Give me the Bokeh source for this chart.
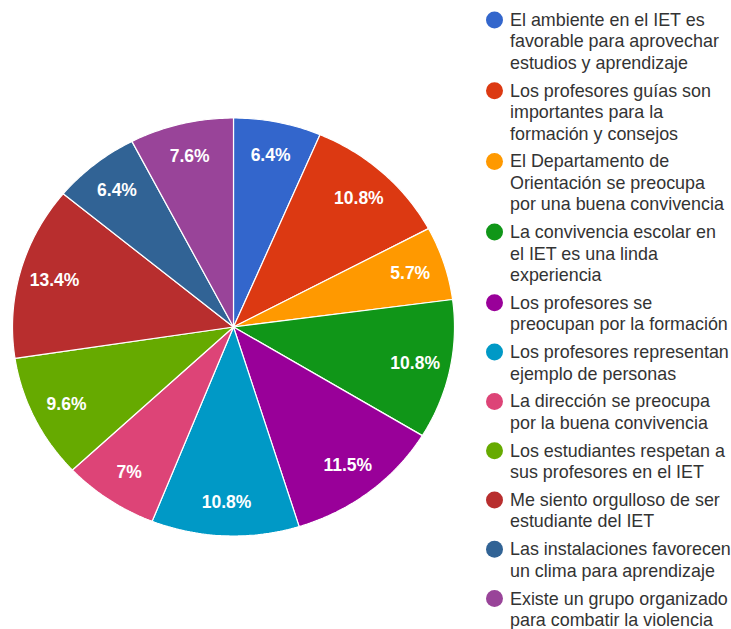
import numpy as np
from bokeh.plotting import figure
from bokeh.models import Range1d
from bokeh.core.properties import value
from bokeh.embed import file_html
from bokeh.resources import INLINE

categories = [
    "El ambiente en el IET es\nfavorable para aprovechar\nestudios y aprendizaje",
    "Los profesores guías son\nimportantes para la\nformación y consejos",
    "El Departamento de\nOrientación se preocupa\npor una buena convivencia",
    "La convivencia escolar en\nel IET es una linda\nexperiencia",
    "Los profesores se\npreocupan por la formación",
    "Los profesores representan\nejemplo de personas",
    "La dirección se preocupa\npor la buena convivencia",
    "Los estudiantes respetan a\nsus profesores en el IET",
    "Me siento orgulloso de ser\nestudiante del IET",
    "Las instalaciones favorecen\nun clima para aprendizaje",
    "Existe un grupo organizado\npara combatir la violencia",
]
percentages = [6.4, 10.8, 5.7, 10.8, 11.5, 10.8, 7.0, 9.6, 13.4, 6.4, 7.6]
pct_labels = ["6.4%", "10.8%", "5.7%", "10.8%", "11.5%", "10.8%", "7%", "9.6%", "13.4%", "6.4%", "7.6%"]
colors = ["#3366cc", "#dc3912", "#ff9900", "#109618", "#990099", "#0099c6",
          "#dd4477", "#66aa00", "#b82e2e", "#316395", "#994499"]

W, H = 731, 629
p = figure(width=W, height=H, output_backend="svg", toolbar_location=None,
           x_range=Range1d(0, W), y_range=Range1d(H, 0),
           min_border=0, outline_line_color=None)
p.axis.visible = False
p.grid.visible = False
p.background_fill_color = "white"

# pie geometry (page pixel coordinates)
cx, cy, rx, ry = 233.0, 326.5, 221.0, 209.0
vals = np.array(percentages, dtype=float)
fr = vals / vals.sum()
ends = np.cumsum(fr) * 2 * np.pi
starts = ends - fr * 2 * np.pi

xs, ys = [], []
for a0, a1 in zip(starts, ends):
    t = np.linspace(a0, a1, max(8, int((a1 - a0) * 80)))
    xs.append([cx] + list(cx + rx * np.sin(t)))
    ys.append([cy] + list(cy - ry * np.cos(t)))
p.patches(xs=xs, ys=ys, fill_color=colors, line_color="white", line_width=1.2)

mid = (starts + ends) / 2
lr = 0.84
p.text(x=list(cx + lr * rx * np.sin(mid)), y=list(cy - lr * ry * np.cos(mid)),
       text=pct_labels, text_color="white", text_font=value("Liberation Sans"),
       text_font_style="bold", text_font_size="17.5px",
       text_align="center", text_baseline="middle")

# legend
line_h, gap = 21.4, 6.5
y0 = 19.5
mx, tx = 494.0, 509.5
mark_y, lx, ly, lt = [], [], [], []
y = y0
for cat in categories:
    lines = cat.split("\n")
    mark_y.append(y)
    for k, ln in enumerate(lines):
        lx.append(tx)
        ly.append(y + k * line_h)
        lt.append(ln)
    y += len(lines) * line_h + gap

p.scatter(x=[mx] * len(mark_y), y=mark_y, size=17, fill_color=colors, line_color=None)
p.text(x=lx, y=ly, text=lt, text_color="#333333", text_font=value("Liberation Sans"),
       text_font_size="17.9px", text_align="left", text_baseline="middle")

open("out.html", "w").write(file_html(p, INLINE))
